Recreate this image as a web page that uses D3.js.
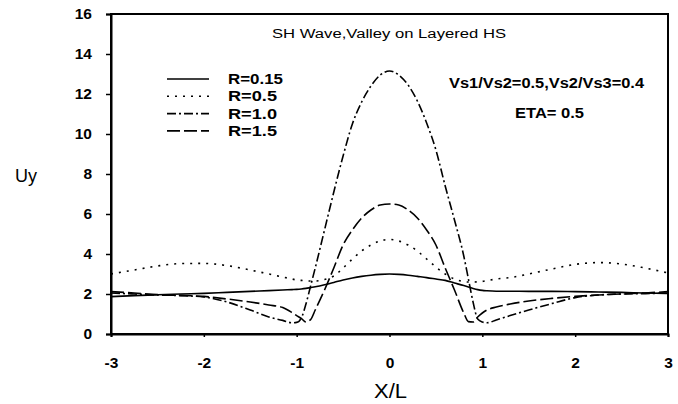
<!DOCTYPE html>
<html>
<head>
<meta charset="utf-8">
<script src="https://cdn.jsdelivr.net/npm/d3@7"></script>
<style>
html,body{margin:0;padding:0;background:#fff;}
svg{display:block;font-family:"Liberation Sans",Arial,sans-serif;}
</style>
</head>
<body>
<svg id="chart" width="678" height="404"></svg>
<script>
// ---- data ----
const xs = [-3,-2.75,-2.5,-2.25,-2,-1.75,-1.5,-1.3,-1.15,-1.05,-1,-0.95,-0.9,-0.85,-0.8,-0.7,-0.6,-0.5,-0.4,-0.3,-0.2,-0.1,0,
            0.1,0.2,0.3,0.4,0.5,0.6,0.7,0.8,0.85,0.9,0.95,1,1.05,1.15,1.3,1.5,1.75,2,2.25,2.5,2.75,3];
const uyR015 = [1.87,1.92,1.96,2.0,2.03,2.08,2.13,2.17,2.2,2.22,2.23,2.25,2.28,2.32,2.36,2.46,2.58,2.7,2.8,2.88,2.94,2.98,3.0,
                2.98,2.94,2.88,2.82,2.75,2.68,2.55,2.42,2.35,2.28,2.22,2.18,2.16,2.14,2.14,2.13,2.13,2.12,2.1,2.08,2.05,2.03];
const uyR05  = [3.0,3.2,3.4,3.52,3.53,3.42,3.2,3.0,2.85,2.75,2.7,2.68,2.66,2.65,2.65,2.72,2.9,3.3,3.75,4.15,4.45,4.65,4.73,
                4.65,4.45,4.15,3.75,3.35,3.0,2.75,2.62,2.6,2.6,2.61,2.63,2.67,2.75,2.82,3.0,3.25,3.48,3.57,3.5,3.3,3.05];
const uyR10  = [2.05,2.0,1.95,1.92,1.85,1.6,1.2,0.85,0.68,0.56,0.58,0.8,1.5,2.4,3.3,5.2,7.1,8.9,10.5,11.6,12.4,12.95,13.15,
                12.95,12.45,11.65,10.55,9.2,7.4,5.7,3.9,2.75,1.6,0.75,0.6,0.56,0.7,0.92,1.2,1.52,1.82,1.95,2.0,2.02,2.05];
const uyR15  = [2.12,2.05,1.97,1.93,1.88,1.75,1.6,1.45,1.32,1.07,0.92,0.78,0.6,0.72,1.2,2.2,3.3,4.45,5.2,5.8,6.2,6.45,6.5,
                6.45,6.2,5.8,5.2,4.45,3.3,2.2,1.05,0.62,0.6,0.85,1.05,1.2,1.35,1.5,1.65,1.78,1.88,1.95,2.0,2.05,2.12];
const seriesLabels = ["R=0.15","R=0.5","R=1.0","R=1.5"];
const xTicks = [-3,-2,-1,0,1,2,3];
const yTicks = [0,2,4,6,8,10,12,14,16];
const titleText = "SH Wave,Valley on Layered HS";
const noteText1 = "Vs1/Vs2=0.5,Vs2/Vs3=0.4";
const noteText2 = "ETA= 0.5";
const xLabel = "X/L";
const yLabel = "Uy";

// ---- layout ----
const svg = d3.select("#chart");
const x = d3.scaleLinear().domain([-3,3]).range([111,668]);
const y = d3.scaleLinear().domain([0,16]).range([334,14]);
const dashes = [null, "2,6", "9,3,2,3", "13,4"];
const allSeries = [uyR015, uyR05, uyR10, uyR15];

// frame
svg.append("rect").attr("x",x(-3)).attr("y",y(16)).attr("width",x(3)-x(-3)).attr("height",y(0)-y(16))
  .attr("fill","none").attr("stroke","#000").attr("stroke-width",2);

// axes
const yAxis = d3.axisLeft(y).tickValues(yTicks).tickSize(5).tickPadding(14).tickFormat(d3.format("d"));
const gy = svg.append("g").attr("transform",`translate(${x(-3)},0)`).call(yAxis);
gy.select(".domain").attr("stroke-width",2);
gy.selectAll(".tick line").attr("stroke-width",1.5);
gy.selectAll("text").attr("font-size",15.5).attr("font-weight","bold").attr("font-family","Liberation Sans, Arial, sans-serif").attr("fill","#000");

const xAxis = d3.axisBottom(x).tickValues(xTicks).tickSize(3).tickPadding(20).tickFormat(d3.format("d"));
const gx = svg.append("g").attr("transform",`translate(0,${y(0)})`).call(xAxis);
gx.select(".domain").attr("stroke-width",2);
gx.selectAll(".tick line").attr("stroke-width",1.5);
gx.selectAll("text").attr("font-size",15.5).attr("font-weight","bold").attr("font-family","Liberation Sans, Arial, sans-serif").attr("fill","#000")
  .text(d => d < 0 ? "-" + Math.abs(d) : String(d));

// curves
const line = d3.line().x((d,i)=>x(xs[i])).y(d=>y(d)).curve(d3.curveMonotoneX);
allSeries.forEach((s,k)=>{
  svg.append("path").datum(s).attr("d",line).attr("fill","none").attr("stroke","#000")
    .attr("stroke-width",1.6).attr("stroke-dasharray",dashes[k]);
});

// legend
seriesLabels.forEach((lab,k)=>{
  const by = 84 + k*17.3;
  svg.append("line").attr("x1",167).attr("x2",209).attr("y1",by-5).attr("y2",by-5)
    .attr("stroke","#000").attr("stroke-width",1.6).attr("stroke-dasharray",dashes[k]);
  svg.append("text").attr("x",228).attr("y",by).attr("font-size",14).attr("font-weight","bold")
    .attr("textLength",[55,49,49,49][k]).attr("lengthAdjust","spacingAndGlyphs").text(lab);
});

// texts
svg.append("text").attr("x",272).attr("y",38).attr("font-size",12.5)
  .attr("textLength",234).attr("lengthAdjust","spacingAndGlyphs").text(titleText);
svg.append("text").attr("x",449).attr("y",88).attr("font-size",14).attr("font-weight","bold")
  .attr("textLength",195).attr("lengthAdjust","spacingAndGlyphs").text(noteText1);
svg.append("text").attr("x",515).attr("y",118).attr("font-size",14).attr("font-weight","bold")
  .attr("textLength",69).attr("lengthAdjust","spacingAndGlyphs").text(noteText2);
svg.append("text").attr("x",15).attr("y",182).attr("font-size",18).text(yLabel);
svg.append("text").attr("x",374).attr("y",398).attr("font-size",21)
  .attr("textLength",33).attr("lengthAdjust","spacingAndGlyphs").text(xLabel);
</script>
</body>
</html>
